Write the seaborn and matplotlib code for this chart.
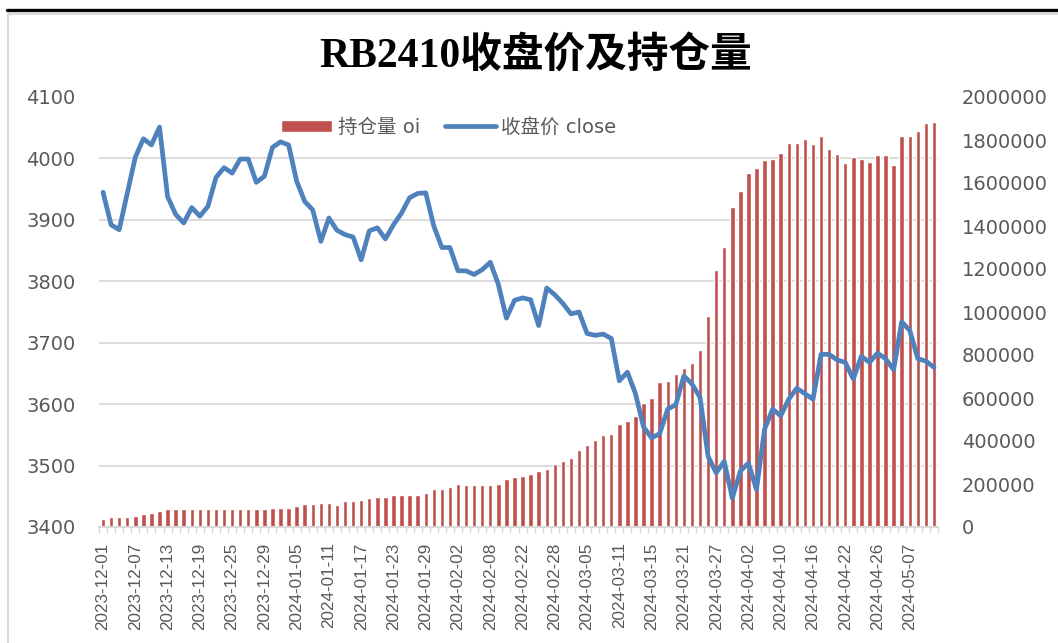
import numpy as np
import matplotlib
matplotlib.use("Agg")
import matplotlib.pyplot as plt
from matplotlib.lines import Line2D
from matplotlib.ticker import FixedLocator
import seaborn as sns

# ==============================
# Data
# ==============================

dates = (
    ["2023-12-%02d" % d for d in [1, 4, 5, 6, 7, 8, 11, 12, 13, 14, 15, 18, 19, 20, 21, 22, 25, 26, 27, 28, 29]]
    + ["2024-01-%02d" % d for d in [2, 3, 4, 5, 8, 9, 10, 11, 12, 15, 16, 17, 18, 19, 22, 23, 24, 25, 26, 29, 30, 31]]
    + ["2024-02-%02d" % d for d in [1, 2, 5, 6, 7, 8, 19, 20, 21, 22, 23, 26, 27, 28, 29]]
    + ["2024-03-%02d" % d for d in [1, 4, 5, 6, 7, 8, 11, 12, 13, 14, 15, 18, 19, 20, 21, 22, 25, 26, 27, 28, 29]]
    + ["2024-04-%02d" % d for d in [1, 2, 3, 8, 9, 10, 11, 12, 15, 16, 17, 18, 19, 22, 23, 24, 25, 26, 29, 30]]
    + ["2024-05-%02d" % d for d in [6, 7, 8, 9, 10]]
)

close = [
    3945, 3892, 3884, 3943, 4002, 4032, 4022, 4051, 3938, 3909,
    3895, 3920, 3906, 3922, 3969, 3985, 3976, 3999, 3999, 3961,
    3971, 4018, 4027, 4022, 3963, 3930, 3916, 3865, 3903, 3883,
    3876, 3872, 3835, 3882, 3887, 3869, 3892, 3911, 3936, 3943,
    3944, 3890, 3855, 3855, 3817, 3817, 3811, 3819, 3831, 3795,
    3740, 3769, 3773, 3770, 3728, 3789, 3778, 3764, 3747, 3750,
    3715, 3712, 3714, 3707, 3638, 3652, 3617, 3563, 3545, 3552,
    3592, 3599, 3646, 3633, 3611, 3515, 3488, 3507, 3447, 3491,
    3504, 3461, 3559, 3592, 3581, 3608, 3626, 3617, 3608, 3681,
    3681, 3672, 3668, 3641, 3678, 3668, 3683, 3674, 3656, 3734,
    3720, 3674, 3670, 3660,
]

oi = [
    37000, 45000, 45000, 45000, 51000, 59000, 67000, 74000, 82000, 82000,
    82000, 82000, 82000, 82000, 82000, 82000, 82000, 82000, 82000, 82000,
    82000, 90000, 90000, 90000, 98000, 105000, 105000, 110000, 110000, 102000,
    121000, 121000, 126000, 133000, 141000, 141000, 147000, 147000, 147000, 147000,
    157000, 178000, 178000, 185000, 202000, 194000, 194000, 194000, 194000, 202000,
    222000, 231000, 237000, 246000, 260000, 268000, 293000, 305000, 319000, 358000,
    381000, 403000, 426000, 433000, 479000, 493000, 516000, 575000, 598000, 673000,
    681000, 710000, 738000, 762000, 823000, 980000, 1196000, 1304000, 1490000, 1564000,
    1648000, 1668000, 1707000, 1713000, 1738000, 1787000, 1787000, 1803000, 1781000, 1819000,
    1757000, 1735000, 1692000, 1719000, 1713000, 1698000, 1729000, 1729000, 1682000, 1819000,
    1819000, 1840000, 1878000, 1885000,
]

close_ticks = [3400, 3500, 3600, 3700, 3800, 3900, 4000, 4100]
oi_ticks = [0, 200000, 400000, 600000, 800000, 1000000, 1200000, 1400000, 1600000, 1800000, 2000000]

RED = "#C0504D"
BLUE = "#4F81BD"
GRID = "#D9D9D9"
TXT = "#595959"

# Style
sns.set_style("white")
plt.rcParams["font.family"] = ["DejaVu Sans", "Noto Sans CJK SC"]

fig = plt.figure(figsize=(10.58, 6.43), dpi=100)
ax = fig.add_axes([99 / 1058, 116 / 643, 839 / 1058, 430 / 643])

# bars on the primary axes (right-hand scale)
sns.barplot(x=dates, y=oi, ax=ax, color=RED, saturation=1, width=0.55, label="持仓量 oi")

# line on a twin axes (left-hand scale)
ax2 = ax.twinx()
pos = np.arange(len(dates))
sns.lineplot(x=pos, y=close, ax=ax2, color=BLUE, linewidth=3.4, label="收盘价 close")

for a in (ax, ax2):
    if a.get_legend() is not None:
        a.get_legend().remove()
    a.set_xlabel("")
    a.set_ylabel("")
    for s in a.spines.values():
        s.set_visible(False)

ax.set_xlim(-0.5, len(dates) - 0.5)
ax.set_ylim(0, 2000000)
ax2.set_ylim(3400, 4100)

# right axis ticks (oi)
ax.yaxis.tick_right()
ax.set_yticks(oi_ticks)
ax.set_yticklabels([str(t) for t in oi_ticks])
# gridlines follow the left (price) scale, drawn behind the bars
ax.yaxis.set_minor_locator(FixedLocator(np.linspace(0, 2000000, len(close_ticks))))
ax.grid(axis="y", which="minor", color=GRID, linewidth=1.3)
ax.grid(axis="y", which="major", visible=False)
ax.set_axisbelow(True)
ax.tick_params(axis="y", which="both", length=0, pad=17, labelsize=14, labelcolor=TXT)

# left axis ticks (close)
ax2.yaxis.tick_left()
ax2.set_yticks(close_ticks)
ax2.set_yticklabels([str(t) for t in close_ticks])
ax2.tick_params(axis="y", length=0, pad=17, labelsize=14, labelcolor=TXT)
ax2.grid(False)

# x axis: label every 4th trading day, tick marks at category boundaries
ax.spines["bottom"].set_visible(True)
ax.spines["bottom"].set_color(GRID)
ax.spines["bottom"].set_linewidth(1.5)
ax.set_xticks(pos[::4])
ax.set_xticklabels(dates[::4], rotation=90, color=TXT, fontsize=12.3,
                   family="Liberation Sans")
ax.xaxis.set_minor_locator(FixedLocator(np.arange(-0.5, len(dates), 1)))
ax.tick_params(axis="x", which="major", length=0, pad=11)
ax.tick_params(axis="x", which="minor", length=4, width=1, color=GRID, bottom=True)
ax2.tick_params(axis="x", which="both", length=0)

# legend
h1, l1 = ax.get_legend_handles_labels()
h2, l2 = ax2.get_legend_handles_labels()
ax2.legend(h1 + h2, l1 + l2, loc="center", bbox_to_anchor=(0.417, 0.93), ncol=2,
           frameon=False, fontsize=14, labelcolor=TXT, handlelength=2.6,
           handleheight=0.55, handletextpad=0.3, columnspacing=1.3)

# title
fig.text(536 / 1058, 1 - 57 / 643, "RB2410收盘价及持仓量", ha="center", va="center",
         fontsize=30, fontweight="bold", color="black",
         family=["Liberation Serif", "Noto Sans CJK SC"])

# chart frame
fig.add_artist(Line2D([7 / 1058, 1], [1 - 10 / 643, 1 - 10 / 643], color="black", linewidth=2.4))
fig.add_artist(Line2D([8 / 1058, 1], [1 - 14 / 643, 1 - 14 / 643], color=GRID, linewidth=1.5))
fig.add_artist(Line2D([8 / 1058, 8 / 1058], [0, 1 - 14 / 643], color=GRID, linewidth=1.5))

fig.savefig("out.png", dpi=100)
plt.close()
